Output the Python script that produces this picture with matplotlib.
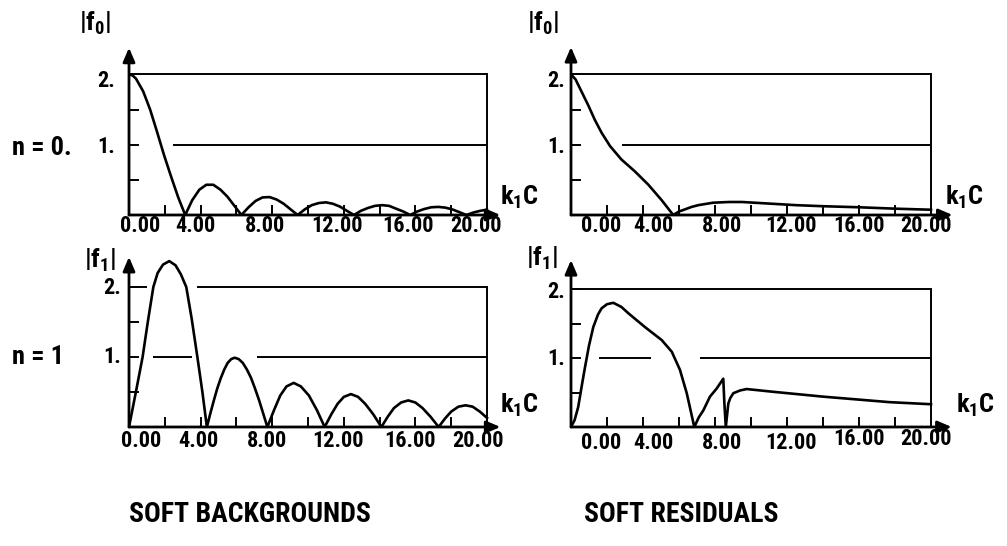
import matplotlib
matplotlib.use("Agg")
import matplotlib.pyplot as plt

plt.rcParams['font.family'] = ['Roboto Condensed', 'DejaVu Sans']
plt.rcParams['font.weight'] = 'bold'
plt.rcParams['mathtext.fontset'] = 'custom'
plt.rcParams['mathtext.rm'] = 'Roboto Condensed:bold'
plt.rcParams['mathtext.bf'] = 'Roboto Condensed:bold'
plt.rcParams['mathtext.it'] = 'Roboto Condensed:bold'

# ---- data ----
# n = 0, soft backgrounds
bg0_k = [0, 0.2, 0.39, 0.79, 1.18, 1.57, 1.96, 2.36, 2.75, 3.14, 3.53, 3.93, 4.32, 4.71,
         5.11, 5.50, 5.89, 6.28, 6.68, 7.07, 7.46, 7.85, 8.25, 8.64, 9.03, 9.42, 9.82,
         10.21, 10.60, 11.00, 11.39, 11.78, 12.17, 12.57, 12.96, 13.35, 13.74, 14.14,
         14.53, 14.92, 15.32, 15.71, 16.10, 16.49, 16.89, 17.28, 17.67, 18.06, 18.46,
         18.85, 19.24, 19.63, 20.0]
bg0_f = [2.00, 1.985, 1.94, 1.76, 1.50, 1.18, 0.85, 0.54, 0.25, 0.00, 0.21, 0.36, 0.43, 0.43,
         0.36, 0.26, 0.13, 0.00, 0.11, 0.20, 0.25, 0.255, 0.22, 0.16, 0.08, 0.00, 0.08,
         0.14, 0.17, 0.18, 0.16, 0.12, 0.06, 0.00, 0.06, 0.10, 0.13, 0.14,
         0.13, 0.09, 0.05, 0.00, 0.05, 0.085, 0.11, 0.115, 0.105, 0.08, 0.04,
         0.00, 0.035, 0.06, 0.075]

# n = 1, soft backgrounds
bg1_k = [0, 0.4, 0.76, 1.05, 1.36, 1.6, 1.9, 2.25, 2.6, 2.9, 3.2, 3.5, 3.82, 4.1, 4.35,
         4.54, 4.74, 4.93, 5.13, 5.32, 5.51, 5.71, 5.9, 6.13, 6.36, 6.59, 6.82, 7.04, 7.27,
         7.5, 7.73, 8.1, 8.45, 8.8, 9.2, 9.6, 10.05, 10.5,
         10.93, 11.3, 11.65, 12.0, 12.4, 12.8, 13.2, 13.65, 14.1, 14.45, 14.8, 15.2,
         15.6, 16.0, 16.4, 16.85, 17.3, 17.65, 18.0, 18.4, 18.8, 19.2, 19.6, 20.0]
bg1_f = [0, 0.52, 1.0, 1.5, 2.0, 2.2, 2.32, 2.37, 2.31, 2.18, 2.0, 1.55, 1.0, 0.5, 0,
         0.19, 0.38, 0.55, 0.70, 0.82, 0.915, 0.97, 0.99, 0.97, 0.915, 0.82, 0.70, 0.55, 0.38,
         0.19, 0, 0.24, 0.45, 0.58, 0.63, 0.58, 0.45, 0.24,
         0, 0.18, 0.33, 0.43, 0.47, 0.43, 0.33, 0.18, 0, 0.145, 0.27, 0.35,
         0.38, 0.35, 0.27, 0.145, 0, 0.12, 0.22, 0.29, 0.31, 0.29, 0.22, 0.13]

# n = 0, soft residuals
res0_k = [0, 0.25, 0.5, 0.96, 1.33, 1.7, 2.17, 2.8, 3.55, 4.3, 5.04, 5.68, 6.0, 6.33, 6.7,
          7.07, 7.9, 8.8, 9.5, 10.5, 11.5, 12.5, 14.0, 16.0, 18.0, 20.0]
res0_f = [2.0, 1.93, 1.8, 1.56, 1.35, 1.17, 0.98, 0.79, 0.62, 0.43, 0.21, 0.0, 0.05, 0.08,
          0.115, 0.14, 0.175, 0.185, 0.185, 0.17, 0.155, 0.14, 0.125, 0.11, 0.09, 0.075]

# n = 1, soft residuals
res1_k = [0, 0.2, 0.4, 0.6, 0.78, 1.0, 1.24, 1.5, 1.7, 2.0, 2.35, 2.8, 3.18, 4.1, 5.04, 5.6,
          6.05, 6.43, 6.85, 7.1, 7.35, 7.72, 8.1, 8.46, 8.52, 8.6, 8.74, 8.85, 9.02, 9.4,
          9.76, 11.24, 14.0, 17.7, 20.0]
res1_f = [0, 0.1, 0.29, 0.6, 0.87, 1.18, 1.45, 1.63, 1.72, 1.78, 1.80, 1.74, 1.65, 1.45,
          1.26, 1.09, 0.83, 0.49, 0.0, 0.14, 0.24, 0.44, 0.56, 0.70, 0.35, 0.0, 0.34, 0.42,
          0.49, 0.53, 0.55, 0.51, 0.44, 0.36, 0.33]

xtick_labels = ["0.00", "4.00", "8.00", "12.00", "16.00", "20.00"]
ytick_labels = ["2.", "1."]
col_titles = ["SOFT BACKGROUNDS", "SOFT RESIDUALS"]
row_labels = ["n = 0.", "n = 1"]

W, H = 1007, 546
fig = plt.figure(figsize=(W / 100, H / 100), dpi=100)
fig.patch.set_facecolor('white')


def px(x, y):
    return x / W, 1 - y / H


def panel(x0, y0, sx, sy, k, f, lines1, lines2, lab_x, lab_y, xtip, ytip,
          ylab_dx, ylab_y, fname, fname_xy, kname_xy):
    xmax, ymax = 21.6, 2.6
    left, bottom = px(x0, y0)
    ax = fig.add_axes([left, bottom, xmax * sx / W, ymax * sy / H])
    ax.set_xlim(0, xmax)
    ax.set_ylim(0, ymax)
    ax.axis('off')

    # axes with arrows
    arr = dict(arrowstyle='-|>,head_length=0.7,head_width=0.3', lw=2.0, color='k',
               shrinkA=0, shrinkB=0, mutation_scale=12)
    ax.annotate('', xy=(xtip, 0), xytext=(0, 0), arrowprops=arr, annotation_clip=False)
    ax.annotate('', xy=(0, ytip), xytext=(0, 0), arrowprops=arr, annotation_clip=False)

    # frame lines at 1 and 2, right border
    for a, b in lines2:
        ax.plot([a, b], [2, 2], color='k', lw=1.4, solid_capstyle='butt')
    for a, b in lines1:
        ax.plot([a, b], [1, 1], color='k', lw=1.4, solid_capstyle='butt')
    ax.plot([20, 20], [0, 2], color='k', lw=1.4)

    # inward ticks
    for t in range(2, 20, 2):
        ax.plot([t, t], [0, 9 / sy], color='k', lw=1.4)
    for t in [0.5, 1.0, 1.5, 2.0]:
        ax.plot([0, 9 / sx], [t, t], color='k', lw=1.4)

    ax.plot(k, f, color='k', lw=1.9, solid_joinstyle='round')

    for lbl, xl, yl in zip(xtick_labels, lab_x, lab_y):
        ax.text(xl, yl, lbl, ha='center', va='center', fontsize=16, fontweight='bold')

    for lbl, yv in zip(ytick_labels, ylab_y):
        fx, fy = px(x0 + ylab_dx, y0 - yv * sy)
        fig.text(fx, fy, lbl, ha='right', va='center', fontsize=16, fontweight='bold')

    fx, fy = px(*fname_xy)
    fig.text(fx, fy, r'$\mathbf{|f_{%s}|}$' % fname, ha='center', va='center', fontsize=19)
    fx, fy = px(*kname_xy)
    fig.text(fx, fy, r'$\mathbf{k_{1}C}$', ha='center', va='center', fontsize=19)
    return ax


panel(129, 215, 17.9, 70.3, bg0_k, bg0_f,
      lines1=[(2.48, 20)], lines2=[(0, 20)],
      lab_x=[0.6, 3.7, 7.6, 11.6, 15.6, 19.4], lab_y=[-0.15] * 6,
      xtip=20.75, ytip=2.38, ylab_dx=-14, ylab_y=[1.9, 0.97],
      fname='0', fname_xy=(95, 23), kname_xy=(520, 197))

panel(571, 215, 18.0, 70.3, res0_k, res0_f,
      lines1=[(2.85, 20)], lines2=[(0, 20)],
      lab_x=[1.7, 4.6, 8.4, 12.2, 16.0, 19.7], lab_y=[-0.15] * 6,
      xtip=21.2, ytip=2.39, ylab_dx=-6, ylab_y=[1.9, 0.97],
      fname='0', fname_xy=(543, 23), kname_xy=(965, 197))

panel(129, 427, 17.9, 70.0, bg1_k, bg1_f,
      lines1=[(1.36, 3.5), (7.13, 20)], lines2=[(0, 1.0), (3.78, 20)],
      lab_x=[0.7, 3.9, 7.7, 11.7, 15.7, 19.5], lab_y=[-0.2] * 6,
      xtip=20.75, ytip=2.43, ylab_dx=-8, ylab_y=[1.98, 1.0],
      fname='1', fname_xy=(100, 260), kname_xy=(520, 405))

panel(571, 427, 18.0, 69.0, res1_k, res1_f,
      lines1=[(1.57, 4.43), (7.17, 20)], lines2=[(0, 20)],
      lab_x=[1.7, 4.6, 8.4, 12.2, 16.0, 19.7], lab_y=[-0.23] * 4 + [-0.17] * 2,
      xtip=21.15, ytip=2.42, ylab_dx=-6, ylab_y=[1.96, 0.99],
      fname='1', fname_xy=(542, 258), kname_xy=(976, 405))

for lbl, (x, y) in zip(row_labels, [(42, 148), (38, 357)]):
    fx, fy = px(x, y)
    fig.text(fx, fy, lbl, ha='center', va='center', fontsize=19, fontweight='bold')

for lbl, (x, y) in zip(col_titles, [(250, 515), (681, 515)]):
    fx, fy = px(x, y)
    fig.text(fx, fy, lbl, ha='center', va='center', fontsize=20, fontweight='bold')

fig.savefig('out.png', dpi=100, facecolor='white')
